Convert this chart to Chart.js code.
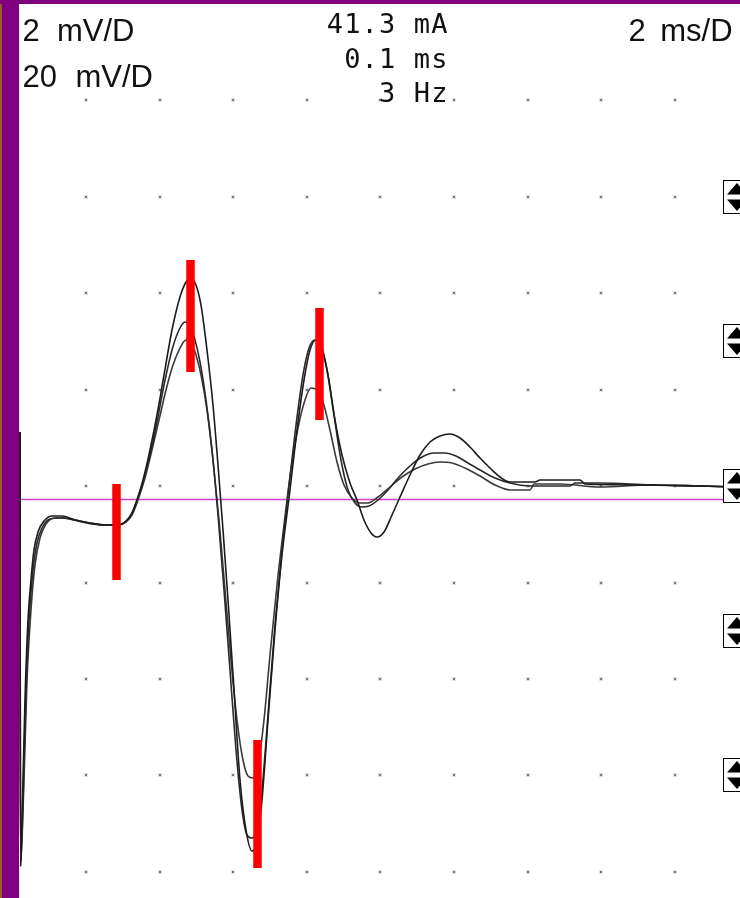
<!DOCTYPE html>
<html>
<head>
<meta charset="utf-8">
<script src="https://cdn.jsdelivr.net/npm/chart.js@4/dist/chart.umd.min.js"></script>
<style>
  html, body { margin: 0; padding: 0; background: #fff; overflow: hidden; }
  canvas { display: block; }
</style>
</head>
<body>
<canvas id="c" width="740" height="898"></canvas>
<script>
// Three superimposed responses: time in ms (2 ms/D), amplitude in mV (2 mV/D)
const traceA_ms = [0.207,0.220,0.261,0.342,0.424,0.505,0.587,0.696,0.859,1.076,1.348,1.701,2.109,2.516,2.870,3.087,3.250,3.386,3.549,3.739,3.929,4.120,4.337,4.554,4.717,4.853,4.989,5.125,5.288,5.451,5.587,5.723,5.859,6.022,6.185,6.348,6.511,6.647,6.783,6.946,7.136,7.326,7.543,7.734,7.924,8.087,8.250,8.413,8.576,8.766,8.957,9.174,9.364,9.554,9.745,9.908,10.098,10.315,10.533,10.804,11.076,11.348,11.620,11.891,12.163,12.435,12.707,12.978,13.250,13.522,14.201,14.337,15.424,15.560,17.326,18.685,19.772];
const traceA_mV = [1.119,-7.876,-6.922,-4.435,-2.777,-1.948,-1.326,-0.953,-0.725,-0.622,-0.622,-0.705,-0.767,-0.808,-0.808,-0.725,-0.560,-0.290,0.124,0.746,1.472,2.301,3.233,3.917,4.228,4.311,4.166,3.751,2.819,1.679,0.435,-0.912,-2.363,-4.228,-6.093,-7.130,-7.565,-7.378,-6.508,-4.850,-2.984,-1.430,-0.083,1.161,2.197,2.819,3.026,2.860,2.301,1.368,0.642,0.062,-0.290,-0.705,-0.974,-1.057,-0.953,-0.601,-0.228,0.228,0.642,0.912,1.036,1.078,0.995,0.808,0.580,0.373,0.187,0.083,0.083,0.124,0.124,0.041,0.021,0,-0.021];

const traceB_ms = [0.207,0.220,0.288,0.370,0.451,0.560,0.668,0.804,1.022,1.293,1.701,2.109,2.516,2.870,3.087,3.250,3.386,3.549,3.739,3.929,4.120,4.337,4.527,4.690,4.826,4.962,5.098,5.261,5.424,5.587,5.750,5.913,6.076,6.239,6.375,6.511,6.647,6.783,6.946,7.136,7.326,7.516,7.707,7.897,8.060,8.223,8.386,8.549,8.739,8.929,9.120,9.310,9.500,9.690,9.935,10.207,10.478,10.804,11.130,11.457,11.755,12.054,12.380,12.707,13.114,13.522,14.065,15.152,15.288,15.967,17.326,18.685,19.772];
const traceB_mV = [1.119,-7.876,-6.508,-4.228,-2.777,-1.741,-1.181,-0.870,-0.684,-0.663,-0.705,-0.767,-0.808,-0.808,-0.725,-0.560,-0.290,0.083,0.642,1.326,2.093,2.819,3.233,3.399,3.316,3.026,2.570,1.782,0.746,-0.601,-2.155,-3.813,-5.472,-6.715,-7.233,-7.295,-7.088,-6.301,-4.746,-2.881,-1.326,0.021,1.264,2.301,2.860,3.026,2.881,2.404,1.472,0.539,-0.083,-0.352,-0.435,-0.415,-0.290,-0.083,0.166,0.415,0.601,0.684,0.684,0.622,0.477,0.332,0.166,0.062,0,0,0.062,0.062,0.021,0,-0.021];

const traceC_ms = [0.207,0.220,0.315,0.397,0.505,0.614,0.750,0.913,1.158,1.429,1.783,2.163,2.516,2.870,3.087,3.250,3.413,3.603,3.793,3.984,4.174,4.364,4.554,4.717,4.853,4.989,5.125,5.288,5.451,5.614,5.777,5.940,6.103,6.266,6.402,6.538,6.674,6.837,7.000,7.190,7.380,7.571,7.761,7.951,8.114,8.277,8.440,8.630,8.821,9.011,9.228,9.446,9.663,9.935,10.261,10.587,10.940,11.293,11.620,11.946,12.299,12.707,13.114,13.522,14.065,14.174,14.880,15.967,17.326,18.685,19.772];
const traceC_mV = [1.119,-7.876,-6.093,-4.021,-2.570,-1.637,-1.078,-0.788,-0.663,-0.663,-0.725,-0.788,-0.808,-0.808,-0.746,-0.601,-0.290,0.166,0.746,1.368,1.990,2.508,2.860,3.026,2.964,2.715,2.301,1.575,0.539,-0.705,-2.155,-3.606,-4.850,-5.679,-6.010,-6.052,-5.782,-4.850,-3.503,-2.052,-0.808,0.332,1.202,1.782,2.031,1.990,1.741,1.161,0.497,0.021,-0.249,-0.352,-0.352,-0.228,-0.021,0.187,0.352,0.456,0.497,0.477,0.373,0.207,0.021,-0.083,-0.083,0.041,0.041,-0.021,0.021,0,-0.021];

// Latency cursors: time (ms) and the span (mV) each red bar covers
const cursor_ms    = [2.829, 4.840, 6.660, 8.345];
const cursorTop_mV = [0.041, 4.684, -5.264, 3.689];
const cursorBot_mV = [-1.948, 2.363, -7.917, 1.368];

// Horizontal reference cursor level (mV)
const refLevel_mV = -0.28;

// Division marks (dotted graticule)
const gridX_ms = [2, 4, 6, 8, 10, 12, 14, 16, 18];
const gridY_mV = [8, 6, 4, 2, 0, -2, -4, -6, -8];

// Channel position handles on the right edge (mV)
const handleLevels_mV = [6, 3, 0, -3, -6];

// Settings read-out
const sensLabels = ["2 mV/D", "20 mV/D"];
const stimLabels = ["41.3 mA", "0.1 ms", "3 Hz"];
const sweepLabel = "2 ms/D";

const X_MIN = -0.337, X_MAX = 19.772;
const Y_MIN = -8.539, Y_MAX = 10.073;

const toPoints = (xs, ys) => xs.map((x, i) => ({ x: x, y: ys[i] }));

const datasets = [];
cursor_ms.forEach((t, i) => {
  datasets.push({
    data: [{ x: t, y: cursorTop_mV[i] }, { x: t, y: cursorBot_mV[i] }],
    borderColor: '#ff0000', borderWidth: 8.5, borderCapStyle: 'butt',
    pointRadius: 0, order: 0
  });
});
[[traceA_ms, traceA_mV, '#1c1c1c'], [traceB_ms, traceB_mV, '#2a2a2a'], [traceC_ms, traceC_mV, '#3a3a3a']]
  .forEach(([xs, ys, col]) => {
    datasets.push({
      data: toPoints(xs, ys),
      borderColor: col, borderWidth: 1.6,
      cubicInterpolationMode: 'monotone',
      pointRadius: 0, order: 1
    });
  });
datasets.push({
  data: [{ x: X_MIN, y: refLevel_mV }, { x: X_MAX, y: refLevel_mV }],
  borderColor: '#d040d0', borderWidth: 1.3, pointRadius: 0, order: 2
});

// Screen decorations: background, graticule dots, frame, read-out and handles
const screen = {
  id: 'screen',
  beforeDraw(chart) {
    const ctx = chart.ctx;
    ctx.save();
    ctx.fillStyle = '#ffffff';
    ctx.fillRect(0, 0, chart.width, chart.height);
    ctx.restore();
  },
  beforeDatasetsDraw(chart) {
    const ctx = chart.ctx, xs = chart.scales.x, ys = chart.scales.y;
    ctx.save();
    gridX_ms.forEach(gx => {
      gridY_mV.forEach(gy => {
        const px = Math.round(xs.getPixelForValue(gx)), py = Math.round(ys.getPixelForValue(gy));
        ctx.fillStyle = '#e2e2e2';
        ctx.fillRect(px - 2, py - 2, 4, 4);
        ctx.fillStyle = '#7a7a7a';
        ctx.fillRect(px - 1, py - 1, 2, 2);
      });
    });
    ctx.restore();
  },
  afterDraw(chart) {
    const ctx = chart.ctx, ys = chart.scales.y;
    ctx.save();
    // purple frame
    ctx.fillStyle = '#800080';
    ctx.fillRect(0, 0, chart.width, 4);
    ctx.fillRect(0, 0, 19, chart.height);
    ctx.fillStyle = '#9b5a2a';
    ctx.fillRect(0, 4, 2, chart.height - 4);

    ctx.fillStyle = '#111';
    ctx.textBaseline = 'alphabetic';
    // sensitivity (proportional face)
    ctx.font = '31px "Liberation Sans", Arial, sans-serif';
    ctx.textAlign = 'left';
    const s1 = sensLabels[0].split(' '), s2 = sensLabels[1].split(' ');
    ctx.fillText(s1[0], 22.6, 40.5);
    ctx.fillText(s1[1], 57, 40.5);
    ctx.fillText(s2[0], 22.6, 86.5);
    ctx.fillText(s2[1], 75.5, 86.5);
    const sw = sweepLabel.split(' ');
    ctx.fillText(sw[0], 628.5, 40.5);
    ctx.fillText(sw[1], 660.3, 40.5);

    // stimulus (fixed-pitch read-out, right aligned)
    ctx.font = '27px "DejaVu Sans Mono", monospace';
    ctx.textAlign = 'center';
    const cell = 17.4, rightEdge = 448;
    const baselines = [33, 68, 102];
    stimLabels.forEach((t, li) => {
      const left = rightEdge - t.length * cell;
      for (let i = 0; i < t.length; i++) {
        ctx.fillText(t[i], left + i * cell + cell / 2, baselines[li]);
      }
    });

    // position handles
    handleLevels_mV.forEach(v => {
      const c = Math.round(ys.getPixelForValue(v));
      ctx.fillStyle = '#fff';
      ctx.fillRect(723.5, c - 16.5, 28, 33);
      ctx.strokeStyle = '#000';
      ctx.lineWidth = 1;
      ctx.strokeRect(723.5, c - 16.5, 28, 33);
      ctx.fillStyle = '#000';
      ctx.beginPath();
      ctx.moveTo(737, c - 14); ctx.lineTo(747, c - 2.5); ctx.lineTo(727, c - 2.5); ctx.closePath(); ctx.fill();
      ctx.beginPath();
      ctx.moveTo(727, c + 2.5); ctx.lineTo(747, c + 2.5); ctx.lineTo(737, c + 14); ctx.closePath(); ctx.fill();
    });
    ctx.restore();
  }
};

new Chart(document.getElementById('c'), {
  type: 'line',
  data: { datasets: datasets },
  options: {
    responsive: false,
    animation: false,
    events: [],
    layout: { padding: 0 },
    plugins: { legend: { display: false }, tooltip: { enabled: false } },
    scales: {
      x: { type: 'linear', min: X_MIN, max: X_MAX, display: false },
      y: { type: 'linear', min: Y_MIN, max: Y_MAX, display: false }
    }
  },
  plugins: [screen]
});
</script>
</body>
</html>
